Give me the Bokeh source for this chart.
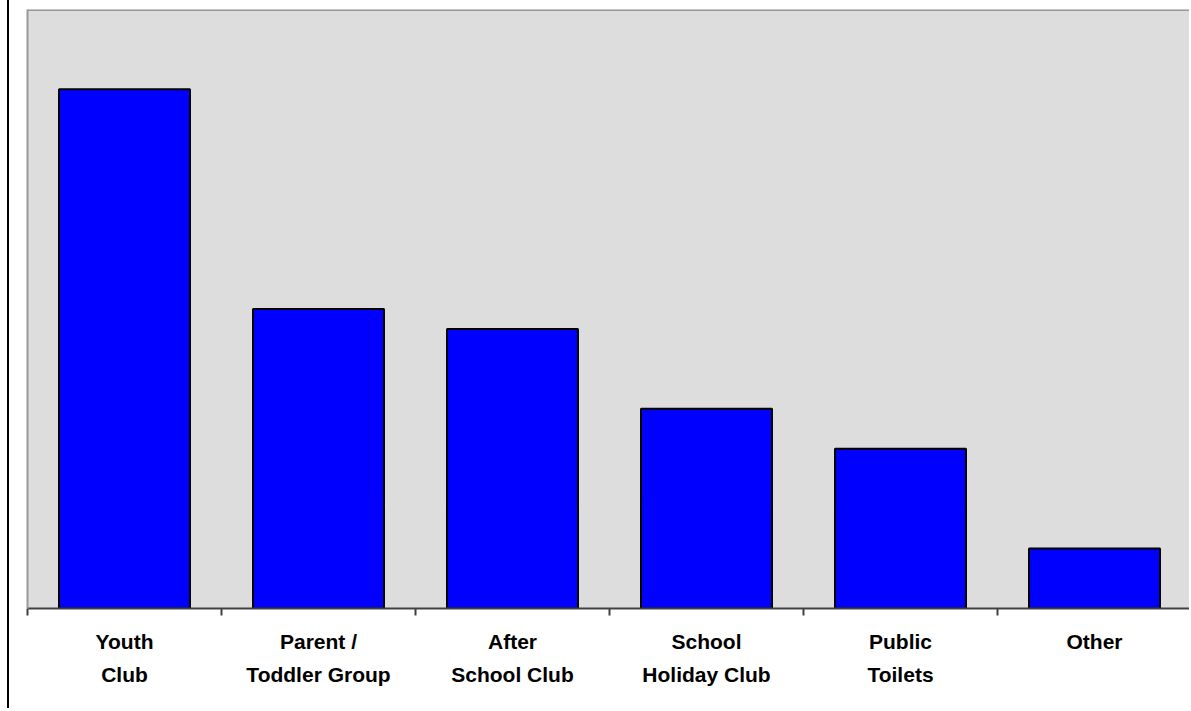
from bokeh.plotting import figure
from bokeh.models import FixedTicker, Range1d, LinearAxis, Span, ColumnDataSource
from bokeh.embed import file_html
from bokeh.resources import INLINE

categories = ["Youth\nClub", "Parent /\nToddler Group", "After\nSchool Club",
              "School\nHoliday Club", "Public\nToilets", "Other"]
values = [26, 15, 14, 10, 8, 3]
y_max = 30

n = len(categories)
centers = [i + 0.5 for i in range(n)]
src = ColumnDataSource(dict(x=centers, top=values, label=categories))

p = figure(width=1182, height=708, output_backend="svg", toolbar_location=None,
           x_range=Range1d(0, n), y_range=Range1d(0, y_max),
           min_border_left=18, min_border_right=0, min_border_top=9, min_border_bottom=100,
           y_axis_location=None)

p.background_fill_color = "#dddddd"
p.border_fill_color = "white"
p.outline_line_color = None
p.grid.visible = False

p.vbar(x="x", top="top", bottom=0, width=0.675, source=src,
       fill_color="#0000ff", line_color="black", line_width=2)

# left frame line (no ticks, no labels)
ya = LinearAxis(axis_line_color="#999999", axis_line_width=2,
                ticker=FixedTicker(ticks=[]),
                major_tick_line_color=None, minor_tick_line_color=None)
p.add_layout(ya, "left")
p.add_layout(Span(location=y_max, dimension="width", line_color="#999999", line_width=3))

xa = p.xaxis[0]
xa.ticker = FixedTicker(ticks=centers, minor_ticks=list(range(n + 1)))
xa.major_label_overrides = {c: lab for c, lab in zip(centers, categories)}
xa.major_tick_line_color = None
xa.major_tick_out = 0
xa.major_tick_in = 0
xa.minor_tick_out = 7
xa.minor_tick_in = 0
xa.minor_tick_line_color = "#404040"
xa.minor_tick_line_width = 2
xa.axis_line_color = "#404040"
xa.axis_line_width = 2
xa.major_label_standoff = 14
xa.major_label_text_font = "Liberation Sans"
xa.major_label_text_font_style = "bold"
xa.major_label_text_font_size = "21px"
xa.major_label_text_color = "black"
xa.major_label_text_line_height = 1.45

p.styles = {"margin-left": "7px", "border-left": "2px solid black"}

open("out.html", "w").write(file_html(p, INLINE))
